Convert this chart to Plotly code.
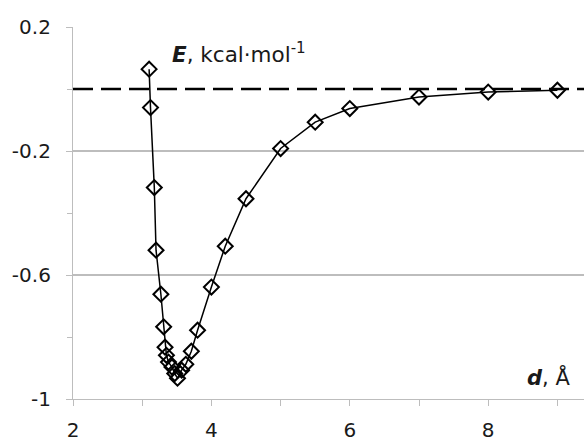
import plotly.graph_objects as go

# Data
d_values = [3.10, 3.12, 3.175, 3.20, 3.27, 3.31, 3.33, 3.35, 3.38, 3.43, 3.47, 3.51,
            3.57, 3.63, 3.71, 3.80, 4.0, 4.2, 4.5, 5.0, 5.5, 6.0, 7.0, 8.0, 9.0]
E_values = [0.064, -0.06, -0.318, -0.52, -0.662, -0.767, -0.833, -0.859, -0.881, -0.897,
            -0.918, -0.933, -0.907, -0.888, -0.846, -0.778, -0.639, -0.507, -0.354,
            -0.192, -0.107, -0.063, -0.026, -0.010, -0.004]

x_tickvals = [2, 4, 6, 8]
x_ticktext = ["2", "4", "6", "8"]
y_tickvals = [-1, -0.6, -0.2, 0.2]
y_ticktext = ["-1", "-0.6", "-0.2", "0.2"]
zero_level = 0

FONT = "DejaVu Sans"
GRID = "#bdbdbd"
TXT = "#1a1a1a"

fig = go.Figure()
fig.add_trace(go.Scatter(
    x=d_values, y=E_values, mode="lines+markers",
    line=dict(color="black", width=1.5),
    marker=dict(symbol="diamond-open", size=11.5, color="black",
                line=dict(color="black", width=2)),
    showlegend=False, cliponaxis=False,
))

fig.add_hline(y=zero_level, line=dict(color="black", width=2.5, dash="20px,8px"), layer="below")

fig.update_layout(
    width=584, height=439,
    margin=dict(l=73, r=0, t=27, b=39.5, autoexpand=False),
    paper_bgcolor="white", plot_bgcolor="white",
    font=dict(family=FONT, size=20, color=TXT),
    xaxis=dict(
        range=[2, 2 + 511 / 69.2], automargin=False,
        tickmode="array", tickvals=x_tickvals, ticktext=x_ticktext,
        showgrid=False, zeroline=False,
        showline=True, linecolor=GRID, linewidth=1.2,
        ticks="outside", ticklen=6, tickcolor=GRID, tickwidth=1.2,
        ticklabelstandoff=7,
        tickfont=dict(family=FONT, size=20, color=TXT),
        minor=dict(tickmode="linear", tick0=3, dtick=2, ticks="outside",
                   ticklen=6, tickcolor=GRID, tickwidth=1.2, showgrid=False),
    ),
    yaxis=dict(
        range=[-1, 0.2], automargin=False,
        tickmode="array", tickvals=y_tickvals, ticktext=y_ticktext,
        showgrid=True, gridcolor=GRID, gridwidth=1.5, zeroline=False,
        showline=True, linecolor=GRID, linewidth=1.2,
        ticks="outside", ticklen=6, tickcolor=GRID, tickwidth=1.2,
        ticklabelstandoff=11,
        tickfont=dict(family=FONT, size=20, color=TXT),
        minor=dict(tickmode="linear", tick0=0, dtick=0.4, ticks="outside",
                   ticklen=5, tickcolor=GRID, tickwidth=1.2, showgrid=False),
    ),
    annotations=[
        dict(text="<b><i>E</i></b>, kcal·mol<sup>-1</sup>", xref="paper", yref="paper",
             x=(170 - 73) / 511, y=(399.5 - 53) / 372.5, xanchor="left", yanchor="middle",
             showarrow=False, font=dict(family=FONT, size=21.5, color=TXT)),
        dict(text="<b><i>d</i></b>, Å", xref="paper", yref="paper",
             x=(572 - 73) / 511, y=(399.5 - 377) / 372.5, xanchor="right", yanchor="middle",
             showarrow=False, font=dict(family=FONT, size=21, color=TXT)),
    ],
)

fig.write_html("out.html")
